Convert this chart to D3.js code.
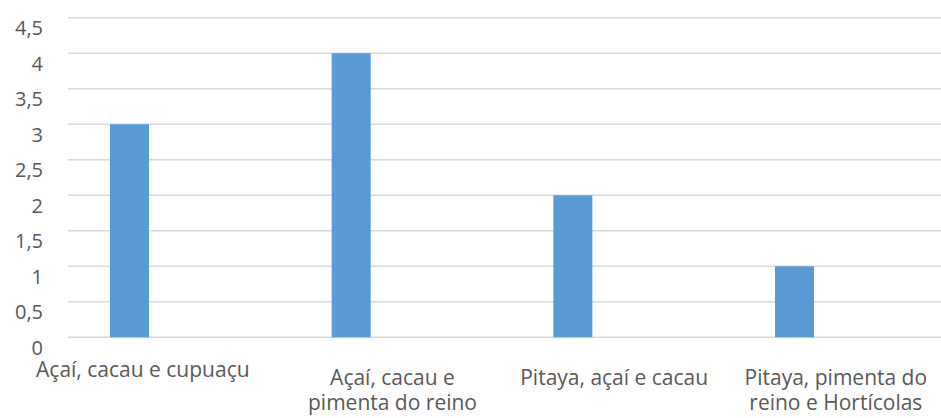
<!DOCTYPE html>
<html>
<head>
<meta charset="utf-8">
<script src="https://cdn.jsdelivr.net/npm/d3@7"></script>
<style>
  html, body { margin: 0; padding: 0; background: #fff; }
  svg { display: block; }
  text { font-family: "Open Sans", "Noto Sans", sans-serif; fill: #595959; }
</style>
</head>
<body>
<svg id="chart" width="941" height="418"></svg>
<script>
// Categories and their values
const categories = [
  "Açaí, cacau e cupuaçu",
  "Açaí, cacau e pimenta do reino",
  "Pitaya, açaí e cacau",
  "Pitaya, pimenta do reino e Hortícolas"
];
// Axis label lines for each category
const categoryLines = [
  ["Açaí, cacau e cupuaçu"],
  ["Açaí, cacau e", "pimenta do reino"],
  ["Pitaya, açaí e cacau"],
  ["Pitaya, pimenta do", "reino e Hortícolas"]
];
const values = [3, 4, 2, 1];
const yTicks = [0, 0.5, 1, 1.5, 2, 2.5, 3, 3.5, 4, 4.5];

const svg = d3.select("#chart");

// Plot geometry
const gridLeft = 68, gridRight = 941;
const bandStart = 60, bandStep = 221.67;

const x = d3.scaleBand()
  .domain(categories)
  .range([bandStart, bandStart + bandStep * categories.length])
  .paddingInner(0).paddingOuter(0);

const y = d3.scaleLinear().domain([0, 4.5]).range([337.3, 17.7]);

const fmt = v => String(v).replace(".", ",");

// Horizontal gridlines
svg.append("g").selectAll("line")
  .data(yTicks)
  .join("line")
  .attr("x1", gridLeft).attr("x2", gridRight)
  .attr("y1", d => y(d)).attr("y2", d => y(d))
  .attr("stroke", "#d9d9d9").attr("stroke-width", 1.5);

// Y axis labels
svg.append("g").selectAll("text")
  .data(yTicks)
  .join("text")
  .attr("x", 43)
  .attr("y", d => y(d) + 10)
  .attr("text-anchor", "end")
  .attr("dominant-baseline", "central")
  .attr("font-size", 20)
  .text(fmt);

// Bars
const barOffset = 50 / 221.67, barWidth = 39 / 221.67;
svg.append("g").selectAll("rect")
  .data(categories.map((c, i) => ({ c, v: values[i] })))
  .join("rect")
  .attr("x", d => x(d.c) + x.bandwidth() * barOffset)
  .attr("width", x.bandwidth() * barWidth)
  .attr("y", d => y(d.v))
  .attr("height", d => y(0) - y(d.v))
  .attr("fill", "#5b9bd5");

// Category labels under each band
const labels = svg.append("g");
categories.forEach((c, i) => {
  const first = i === 0;
  const cx = x(c) + x.bandwidth() / 2 - (first ? 28 : 0);
  const t = labels.append("text")
    .attr("text-anchor", "middle")
    .attr("font-size", 21)
    .attr("x", cx)
    .attr("y", first ? 377 : 385);
  categoryLines[i].forEach((ln, k) => {
    t.append("tspan")
      .attr("x", cx)
      .attr("dy", k === 0 ? 0 : 25)
      .text(ln);
  });
});
</script>
</body>
</html>
